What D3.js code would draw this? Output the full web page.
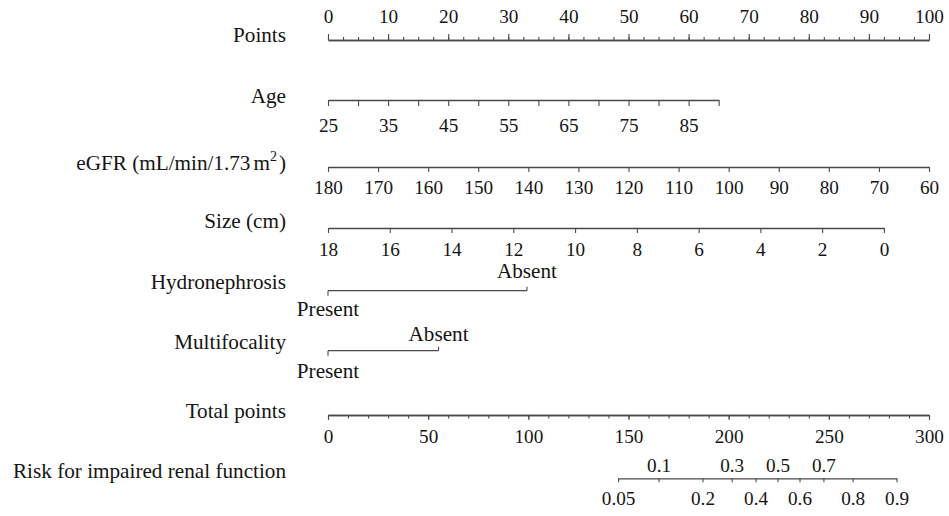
<!DOCTYPE html>
<html>
<head>
<meta charset="utf-8">
<script src="https://cdn.jsdelivr.net/npm/d3@7/dist/d3.min.js"></script>
<style>
  body { margin: 0; background: #fff; }
  text { font-family: "Liberation Serif", "Times New Roman", serif; fill: #141414; }
</style>
</head>
<body>
<div id="chart"></div>
<script>
const width = 949, height = 516;

// ---- values ----
const pointTicks = [0, 10, 20, 30, 40, 50, 60, 70, 80, 90, 100];

const ageTicks = [25, 30, 35, 40, 45, 50, 55, 60, 65, 70, 75, 80, 85, 90];
const ageLabels = [25, 35, 45, 55, 65, 75, 85];
const ageRange = [25, 90];
const agePoints = [0, 65];

const egfrTicks = [180, 170, 160, 150, 140, 130, 120, 110, 100, 90, 80, 70, 60];
const egfrRange = [180, 60];
const egfrPoints = [0, 100];

const sizeTicks = [18, 16, 14, 12, 10, 8, 6, 4, 2, 0];
const sizeRange = [18, 0];
const sizePoints = [0, 92.5];

const hydroLevels = ['Present', 'Absent'];
const hydroPoints = [0, 33.1];

const multiLevels = ['Present', 'Absent'];
const multiPoints = [0, 18.4];

const totalTicks = [0, 50, 100, 150, 200, 250, 300];

const riskTicks = [0.05, 0.1, 0.2, 0.3, 0.4, 0.5, 0.6, 0.7, 0.8, 0.9];
const riskAbove = [0.1, 0.3, 0.5, 0.7];
const riskMidPoints = 224.4;   // total points where risk = 0.5
const riskPointsPerLogit = 27.03;

// ---- layout ----
const labelX = 286;
const rowY = {
  points: 40, age: 100, egfr: 167, size: 228,
  hydro: 290.7, multi: 350.7, total: 415, risk: 478.3
};
const lineColor = '#4a4a4a';
const font = '"Liberation Serif", "Times New Roman", serif';
const labelSize = 21.2;
const tickSize = 19.2;

const svg = d3.select('#chart').append('svg')
  .attr('width', width)
  .attr('height', height);

const x = d3.scaleLinear().domain([0, 100]).range([328, 929]);
const xTotal = d3.scaleLinear().domain([0, 300]).range([328, 929]);

function styleAxis(g, size) {
  g.attr('font-family', font).attr('font-size', size);
  g.select('.domain').attr('stroke', lineColor).attr('stroke-width', 1.3);
  g.selectAll('.tick line').attr('stroke', lineColor).attr('stroke-width', 1.1);
  g.selectAll('.tick text').attr('fill', '#141414');
}

function rowLabel(y, txt) {
  return svg.append('text')
    .attr('x', labelX)
    .attr('y', y)
    .attr('text-anchor', 'end')
    .attr('font-size', labelSize)
    .text(txt);
}

// scale from a variable's value to the pixel position through the points scale
function varScale(range, pts) {
  return d3.scaleLinear().domain(range).range(pts.map(x));
}

// Points
svg.append('g')
  .attr('transform', `translate(0,${rowY.points})`)
  .call(d3.axisTop(x).tickValues(d3.range(0, 100.1, 2.5)).tickSize(3).tickFormat('').tickSizeOuter(0))
  .call(g => styleAxis(g, tickSize));
svg.append('g')
  .attr('transform', `translate(0,${rowY.points})`)
  .call(d3.axisTop(x).tickValues(pointTicks).tickSize(6).tickPadding(11).tickSizeOuter(0))
  .call(g => styleAxis(g, tickSize));
rowLabel(rowY.points + 2.3, 'Points');

// Age
const xAge = varScale(ageRange, agePoints);
svg.append('g')
  .attr('transform', `translate(0,${rowY.age})`)
  .call(d3.axisBottom(xAge).tickValues(ageTicks).tickSize(6).tickPadding(12)
    .tickFormat(d => ageLabels.includes(d) ? d : '').tickSizeOuter(0))
  .call(g => styleAxis(g, tickSize));
rowLabel(rowY.age + 2.7, 'Age');

// eGFR
const xEgfr = varScale(egfrRange, egfrPoints);
svg.append('g')
  .attr('transform', `translate(0,${rowY.egfr})`)
  .call(d3.axisBottom(xEgfr).tickValues(egfrTicks).tickSize(5).tickPadding(8).tickSizeOuter(0))
  .call(g => styleAxis(g, tickSize));
const egfrLabel = rowLabel(rowY.egfr + 3, '');
egfrLabel.append('tspan').text('eGFR (mL/min/1.73');
egfrLabel.append('tspan').attr('dx', 3).text('m');
egfrLabel.append('tspan').attr('dy', -9).attr('font-size', 14).text('2');
egfrLabel.append('tspan').attr('dy', 9).attr('dx', 2).text(')');

// Size
const xSize = varScale(sizeRange, sizePoints);
svg.append('g')
  .attr('transform', `translate(0,${rowY.size})`)
  .call(d3.axisBottom(xSize).tickValues(sizeTicks).tickSize(5).tickPadding(9).tickSizeOuter(0))
  .call(g => styleAxis(g, tickSize));
rowLabel(rowY.size, 'Size (cm)');

// categorical rows
function catRow(y, levels, pts, name, aboveDy, belowDy) {
  const g = svg.append('g').attr('transform', `translate(0,${y})`);
  g.append('line')
    .attr('x1', x(d3.min(pts))).attr('x2', x(d3.max(pts)))
    .attr('stroke', lineColor).attr('stroke-width', 1.3);
  levels.forEach((lv, i) => {
    const up = i % 2 === 1;
    g.append('line')
      .attr('x1', x(pts[i])).attr('x2', x(pts[i]))
      .attr('y1', 0).attr('y2', up ? -4 : 5)
      .attr('stroke', lineColor).attr('stroke-width', 1.1);
    g.append('text')
      .attr('x', x(pts[i]))
      .attr('y', up ? aboveDy : belowDy)
      .attr('text-anchor', 'middle')
      .attr('font-size', labelSize)
      .text(lv);
  });
  rowLabel(y - 2, name);
}
catRow(rowY.hydro, hydroLevels, hydroPoints, 'Hydronephrosis', -12.7, 25.5);
catRow(rowY.multi, multiLevels, multiPoints, 'Multifocality', -9.5, 27);

// Total points
svg.append('g')
  .attr('transform', `translate(0,${rowY.total})`)
  .call(d3.axisBottom(xTotal).tickValues(d3.range(0, 300.1, 10)).tickSize(3.5).tickFormat('').tickSizeOuter(0))
  .call(g => styleAxis(g, tickSize));
svg.append('g')
  .attr('transform', `translate(0,${rowY.total})`)
  .call(d3.axisBottom(xTotal).tickValues(totalTicks).tickSize(5).tickPadding(9).tickSizeOuter(0))
  .call(g => styleAxis(g, tickSize));
rowLabel(rowY.total + 3.3, 'Total points');

// Risk: logistic link from total points
const logit = p => Math.log(p / (1 - p));
const xRisk = d3.scaleLinear()
  .domain(riskTicks)
  .range(riskTicks.map(p => xTotal(riskMidPoints + riskPointsPerLogit * logit(p))));
const riskG = svg.append('g')
  .attr('transform', `translate(0,${rowY.risk})`)
  .call(d3.axisBottom(xRisk).tickValues(riskTicks).tickSize(4).tickPadding(9)
    .tickFormat(d => String(d)).tickSizeOuter(0))
  .call(g => styleAxis(g, tickSize));
riskG.selectAll('.tick text')
  .filter(d => riskAbove.includes(d))
  .attr('y', -6.6)
  .attr('dy', 0);
rowLabel(rowY.risk, 'Risk for impaired renal function');
</script>
</body>
</html>
